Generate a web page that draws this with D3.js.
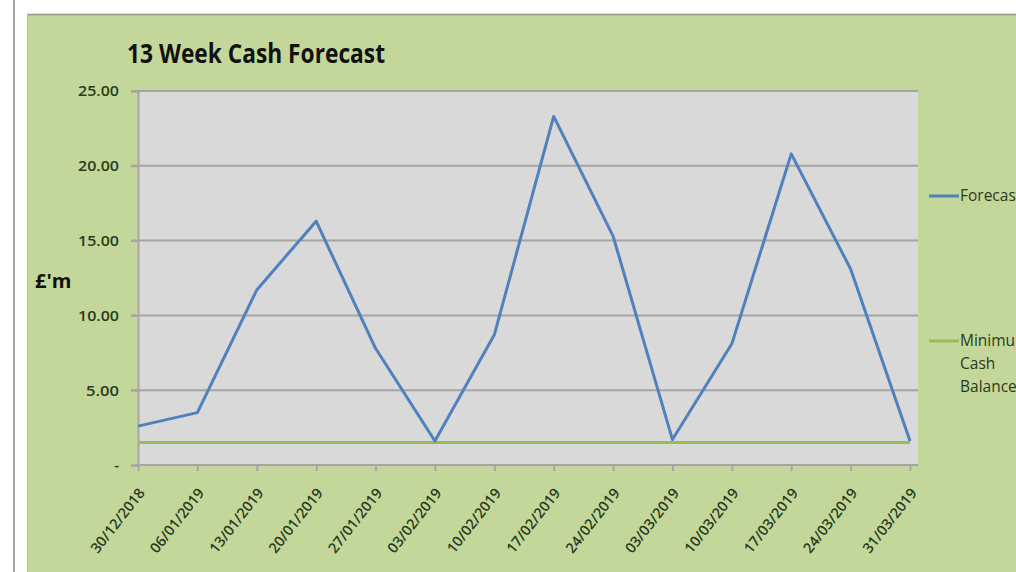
<!DOCTYPE html>
<html>
<head>
<meta charset="utf-8">
<script src="https://cdn.jsdelivr.net/npm/d3@7"></script>
<style>
  body { margin: 0; background: #fff; }
  text { font-family: "Open Sans", "Noto Sans", sans-serif; }
</style>
</head>
<body>
<div id="chart"></div>
<script>
// week-ending dates
var weeks = ["30/12/2018", "06/01/2019", "13/01/2019", "20/01/2019", "27/01/2019", "03/02/2019",
  "10/02/2019", "17/02/2019", "24/02/2019", "03/03/2019", "10/03/2019", "17/03/2019",
  "24/03/2019", "31/03/2019"];
var forecast = [2.6, 3.5, 11.7, 16.3, 7.8, 1.6, 8.7, 23.3, 15.3, 1.7, 8.1, 20.8, 13.1, 1.6];
var minCash = [1.5, 1.5, 1.5, 1.5, 1.5, 1.5, 1.5, 1.5, 1.5, 1.5, 1.5, 1.5, 1.5, 1.5];
var yTicks = [0, 5, 10, 15, 20, 25];

var svgWidth = 1016;
var svgHeight = 572;

var svg = d3.select("#chart")
  .append("svg")
  .attr("width", svgWidth)
  .attr("height", svgHeight);

// outer frame bits
svg.append("rect")
  .attr("x", 13).attr("y", 0).attr("width", 2).attr("height", svgHeight)
  .attr("fill", "#a6a6a6");

svg.append("rect")
  .attr("x", 27).attr("y", 14).attr("width", svgWidth - 27).attr("height", svgHeight - 14)
  .attr("fill", "#c4d79b");
svg.append("line")
  .attr("x1", 27).attr("x2", svgWidth).attr("y1", 14.5).attr("y2", 14.5)
  .attr("stroke", "#8e9c78").attr("stroke-width", 1.5);
svg.append("line")
  .attr("x1", 27.5).attr("x2", 27.5).attr("y1", 14).attr("y2", svgHeight)
  .attr("stroke", "#b3c58c").attr("stroke-width", 1);

var plot = { left: 138, right: 918, top: 91, bottom: 465 };

var x = d3.scalePoint()
  .domain(weeks)
  .range([plot.left, 910]);

var y = d3.scaleLinear()
  .domain([0, 25])
  .range([plot.bottom, plot.top]);

// plot area
svg.append("rect")
  .attr("x", plot.left).attr("y", plot.top)
  .attr("width", plot.right - plot.left).attr("height", plot.bottom - plot.top)
  .attr("fill", "#d9d9d9");

// gridlines
svg.append("g")
  .selectAll("line")
  .data(yTicks.filter(d => d > 0))
  .enter()
  .append("line")
  .attr("x1", plot.left - 7).attr("x2", plot.right)
  .attr("y1", d => y(d)).attr("y2", d => y(d))
  .attr("stroke", "#a5a5a5").attr("stroke-width", 2);

// y axis
var leftAxis = d3.axisLeft(y)
  .tickValues(yTicks)
  .tickSize(7)
  .tickPadding(12)
  .tickFormat(d => d === 0 ? "-" : d3.format(".2f")(d));

var yAxisG = svg.append("g")
  .attr("transform", `translate(${plot.left}, 0)`)
  .call(leftAxis);
yAxisG.select(".domain").attr("stroke", "#a5a5a5").attr("stroke-width", 2);
yAxisG.selectAll(".tick line").attr("stroke", "#a5a5a5").attr("stroke-width", 2);
yAxisG.selectAll(".tick text")
  .attr("fill", "#2a3b1b")
  .attr("font-weight", 600)
  .style("font-size", "15px")
  .attr("textLength", d => d === 0 ? null : (d >= 10 ? 41 : 33))
  .attr("lengthAdjust", "spacingAndGlyphs");

// x axis
var bottomAxis = d3.axisBottom(x)
  .tickSize(6)
  .tickSizeOuter(0)
  .tickPadding(6);

var xAxisG = svg.append("g")
  .attr("transform", `translate(0, ${plot.bottom})`)
  .call(bottomAxis);
xAxisG.select(".domain")
  .attr("d", `M${plot.left},0H${plot.right}`)
  .attr("stroke", "#a5a5a5").attr("stroke-width", 2);
xAxisG.selectAll(".tick line").attr("stroke", "#a5a5a5").attr("stroke-width", 2);
xAxisG.selectAll(".tick text")
  .attr("fill", "#2a3b1b")
  .attr("font-weight", 600)
  .style("font-size", "14.5px")
  .attr("text-anchor", "end")
  .attr("dy", "0.35em")
  .attr("transform", "translate(3, 25) rotate(-52)")
  .attr("x", 0).attr("y", 0);

// lines
var line = d3.line()
  .x((d, i) => x(weeks[i]))
  .y(d => y(d));

svg.append("path")
  .datum(minCash)
  .attr("d", line)
  .attr("fill", "none")
  .attr("stroke", "#9bbb59")
  .attr("stroke-width", 3);

svg.append("path")
  .datum(forecast)
  .attr("d", line)
  .attr("fill", "none")
  .attr("stroke", "#4f81bd")
  .attr("stroke-width", 3)
  .attr("stroke-linejoin", "round");

// title
svg.append("text")
  .attr("x", 127).attr("y", 63)
  .attr("font-weight", "bold")
  .attr("fill", "#111")
  .style("font-size", "26px")
  .attr("textLength", 258)
  .attr("lengthAdjust", "spacingAndGlyphs")
  .text("13 Week Cash Forecast");

// y label
svg.append("text")
  .attr("x", 35).attr("y", 288)
  .attr("font-weight", "bold")
  .attr("fill", "#111")
  .style("font-size", "20px")
  .text("£'m");

// legend (text runs past the right edge, as in the original)
var legend = svg.append("g");
legend.append("line")
  .attr("x1", 929).attr("x2", 959).attr("y1", 196).attr("y2", 196)
  .attr("stroke", "#4f81bd").attr("stroke-width", 3);
legend.append("text")
  .attr("x", 960).attr("y", 201)
  .attr("fill", "#2a3b1b")
  .style("font-size", "15.5px")
  .text("Forecast");

legend.append("line")
  .attr("x1", 929).attr("x2", 959).attr("y1", 341).attr("y2", 341)
  .attr("stroke", "#9bbb59").attr("stroke-width", 3);
var legendLines = ["Minimum", "Cash", "Balance"];
legend.selectAll(".lg2")
  .data(legendLines)
  .enter()
  .append("text")
  .attr("x", 960)
  .attr("y", (d, i) => 346 + i * 23)
  .attr("fill", "#2a3b1b")
  .style("font-size", "15.5px")
  .text(d => d);
</script>
</body>
</html>
